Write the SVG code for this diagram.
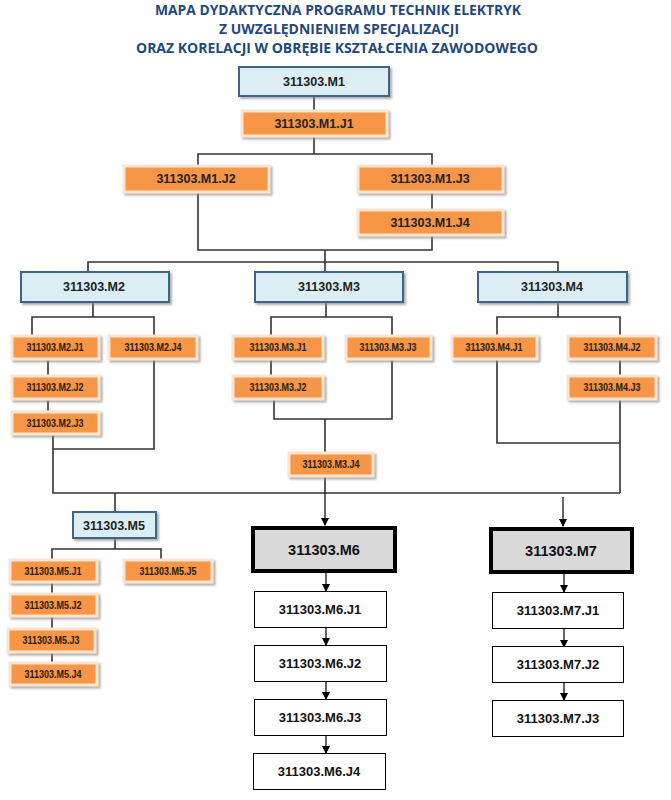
<svg xmlns="http://www.w3.org/2000/svg" width="671" height="800" viewBox="0 0 671 800">
<defs>
<filter id="sh" x="-10%" y="-20%" width="125%" height="160%">
<feDropShadow dx="2" dy="2" stdDeviation="1" flood-color="#8a8a8a" flood-opacity="0.7"/>
</filter>
<marker id="ar" markerWidth="8" markerHeight="8" refX="7" refY="4" orient="auto" markerUnits="userSpaceOnUse">
<path d="M0,0 L8,4 L0,8 Z" fill="#000"/>
</marker>
<style>
.title{font-family:"Open Sans","Liberation Sans",sans-serif;font-weight:bold;font-size:13.5px;fill:#1F497D;text-anchor:middle}
.bl{fill:#DBEEF4;stroke:#41648C;stroke-width:2;filter:url(#sh)}
.or{fill:#F79646;stroke:#FBE4D0;stroke-width:3;filter:url(#sh)}
.gr{fill:#D9D9D9;stroke:#000;stroke-width:4}
.wh{fill:#fff;stroke:#000;stroke-width:1}
.t{font-family:"Liberation Sans",Arial,sans-serif;font-weight:bold;font-size:12.5px;fill:#222;text-anchor:middle}
.ts{font-family:"Liberation Sans",Arial,sans-serif;font-weight:bold;font-size:10.5px;fill:#2a1a0a;text-anchor:middle}
.tw{font-family:"Liberation Sans",Arial,sans-serif;font-weight:bold;font-size:13px;fill:#111;text-anchor:middle}
.tg{font-family:"Liberation Sans",Arial,sans-serif;font-weight:bold;font-size:14.5px;fill:#111;text-anchor:middle}
.c{fill:none;stroke:#333;stroke-width:1.6}
.a{fill:none;stroke:#000;stroke-width:1.2;marker-end:url(#ar)}
</style>
</defs>
<rect width="671" height="800" fill="#fff"/>
<g id="title">
<text class="title" x="338" y="15" textLength="366" lengthAdjust="spacingAndGlyphs">MAPA DYDAKTYCZNA PROGRAMU TECHNIK ELEKTRYK</text>
<text class="title" x="339" y="34" textLength="240" lengthAdjust="spacingAndGlyphs">Z UWZGLĘDNIENIEM SPECJALIZACJI</text>
<text class="title" x="337" y="53" textLength="402" lengthAdjust="spacingAndGlyphs">ORAZ KORELACJI W OBRĘBIE KSZTAŁCENIA ZAWODOWEGO</text>
</g>
<g id="connectors">
<path class="c" d="M314,96 V111 M314,136 V154 M198,166 V154 H432 V166 M432,192 V210 M198,192 V250 H432 V235 M325,250 V272 M88,272 V262 H558 V272"/>
<path class="c" d="M93,302 V317 M32,336 V317 H154 V336 M48,359 V376 M48,399 V412 M53,434 V449 H154 V359 M53,449 V493 H620 M115,493 V512"/>
<path class="c" d="M326,302 V317 M271,336 V317 H392 V336 M271,359 V376 M274,399 V419 H392 V359 M325,419 V453 M325,476 V493"/>
<path class="c" d="M558,302 V317 M497,336 V317 H620 V336 M620,359 V376 M497,359 V443 H620 M620,399 V493"/>
<path class="c" d="M115,538 V549 M52,560 V549 H161 V560 M52,582 V594 M52,616 V629 M52,652 V663"/>
<path class="a" d="M325,493 V525"/>
<path class="a" d="M563,497 V526"/>
<path class="a" d="M326,573 V591"/>
<path class="a" d="M326,627 V645"/>
<path class="a" d="M326,682 V699"/>
<path class="a" d="M326,736 V753"/>
<path class="a" d="M564,574 V592"/>
<path class="a" d="M564,628 V647"/>
<path class="a" d="M564,682 V700"/>
</g>
<g id="M1"><rect class="bl" x="239" y="67" width="150" height="29"/><text class="t" x="314" y="86">311303.M1</text></g>
<g id="M1J1"><rect class="or" x="242" y="111" width="145" height="25"/><text class="t" x="314" y="128">311303.M1.J1</text></g>
<g id="M1J2"><rect class="or" x="124" y="166" width="145" height="26"/><text class="t" x="196" y="183">311303.M1.J2</text></g>
<g id="M1J3"><rect class="or" x="358" y="166" width="145" height="26"/><text class="t" x="430" y="183">311303.M1.J3</text></g>
<g id="M1J4"><rect class="or" x="358" y="210" width="145" height="25"/><text class="t" x="430" y="227">311303.M1.J4</text></g>
<g id="M2"><rect class="bl" x="21" y="272" width="148" height="30"/><text class="t" x="94" y="291">311303.M2</text></g>
<g id="M3"><rect class="bl" x="255" y="272" width="148" height="30"/><text class="t" x="329" y="291">311303.M3</text></g>
<g id="M4"><rect class="bl" x="478" y="272" width="149" height="30"/><text class="t" x="552" y="291">311303.M4</text></g>
<g id="M2J1"><rect class="or" x="12" y="336" width="87" height="23"/><text class="ts" x="55" y="351" textLength="57" lengthAdjust="spacingAndGlyphs">311303.M2.J1</text></g>
<g id="M2J2"><rect class="or" x="12" y="376" width="87" height="23"/><text class="ts" x="55" y="391" textLength="57" lengthAdjust="spacingAndGlyphs">311303.M2.J2</text></g>
<g id="M2J3"><rect class="or" x="12" y="412" width="87" height="22"/><text class="ts" x="55" y="427" textLength="57" lengthAdjust="spacingAndGlyphs">311303.M2.J3</text></g>
<g id="M2J4"><rect class="or" x="109" y="336" width="88" height="23"/><text class="ts" x="153" y="351" textLength="57" lengthAdjust="spacingAndGlyphs">311303.M2.J4</text></g>
<g id="M3J1"><rect class="or" x="233" y="336" width="90" height="23"/><text class="ts" x="278" y="351" textLength="57" lengthAdjust="spacingAndGlyphs">311303.M3.J1</text></g>
<g id="M3J2"><rect class="or" x="233" y="376" width="90" height="23"/><text class="ts" x="278" y="391" textLength="57" lengthAdjust="spacingAndGlyphs">311303.M3.J2</text></g>
<g id="M3J3"><rect class="or" x="346" y="336" width="85" height="23"/><text class="ts" x="388" y="351" textLength="57" lengthAdjust="spacingAndGlyphs">311303.M3.J3</text></g>
<g id="M3J4"><rect class="or" x="289" y="453" width="84" height="23"/><text class="ts" x="331" y="468" textLength="57" lengthAdjust="spacingAndGlyphs">311303.M3.J4</text></g>
<g id="M4J1"><rect class="or" x="452" y="336" width="85" height="23"/><text class="ts" x="494" y="351" textLength="57" lengthAdjust="spacingAndGlyphs">311303.M4.J1</text></g>
<g id="M4J2"><rect class="or" x="568" y="336" width="88" height="23"/><text class="ts" x="612" y="351" textLength="57" lengthAdjust="spacingAndGlyphs">311303.M4.J2</text></g>
<g id="M4J3"><rect class="or" x="568" y="376" width="88" height="23"/><text class="ts" x="612" y="391" textLength="57" lengthAdjust="spacingAndGlyphs">311303.M4.J3</text></g>
<g id="M5"><rect class="bl" x="73" y="512" width="83" height="26"/><text class="t" x="114" y="530">311303.M5</text></g>
<g id="M5J1"><rect class="or" x="10" y="560" width="87" height="22"/><text class="ts" x="53" y="575" textLength="57" lengthAdjust="spacingAndGlyphs">311303.M5.J1</text></g>
<g id="M5J2"><rect class="or" x="10" y="594" width="87" height="22"/><text class="ts" x="53" y="609" textLength="57" lengthAdjust="spacingAndGlyphs">311303.M5.J2</text></g>
<g id="M5J3"><rect class="or" x="8" y="629" width="87" height="23"/><text class="ts" x="51" y="644" textLength="57" lengthAdjust="spacingAndGlyphs">311303.M5.J3</text></g>
<g id="M5J4"><rect class="or" x="10" y="663" width="87" height="22"/><text class="ts" x="53" y="678" textLength="57" lengthAdjust="spacingAndGlyphs">311303.M5.J4</text></g>
<g id="M5J5"><rect class="or" x="124" y="560" width="88" height="22"/><text class="ts" x="168" y="575" textLength="57" lengthAdjust="spacingAndGlyphs">311303.M5.J5</text></g>
<g id="M6"><rect class="gr" x="253" y="528" width="142" height="43"/><text class="tg" x="324" y="555">311303.M6</text></g>
<g id="M6J1"><rect class="wh" x="254.5" y="591.5" width="132" height="36"/><text class="tw" x="320" y="614">311303.M6.J1</text></g>
<g id="M6J2"><rect class="wh" x="254.5" y="645.5" width="132" height="36"/><text class="tw" x="320" y="668">311303.M6.J2</text></g>
<g id="M6J3"><rect class="wh" x="254.5" y="699.5" width="132" height="36"/><text class="tw" x="320" y="722">311303.M6.J3</text></g>
<g id="M6J4"><rect class="wh" x="253.5" y="753.5" width="132" height="36"/><text class="tw" x="319" y="776">311303.M6.J4</text></g>
<g id="M7"><rect class="gr" x="491" y="529" width="141" height="43"/><text class="tg" x="561" y="556">311303.M7</text></g>
<g id="M7J1"><rect class="wh" x="492.5" y="592.5" width="131" height="36"/><text class="tw" x="558" y="615">311303.M7.J1</text></g>
<g id="M7J2"><rect class="wh" x="492.5" y="646.5" width="131" height="36"/><text class="tw" x="558" y="669">311303.M7.J2</text></g>
<g id="M7J3"><rect class="wh" x="492.5" y="700.5" width="131" height="36"/><text class="tw" x="558" y="723">311303.M7.J3</text></g>
</svg>
